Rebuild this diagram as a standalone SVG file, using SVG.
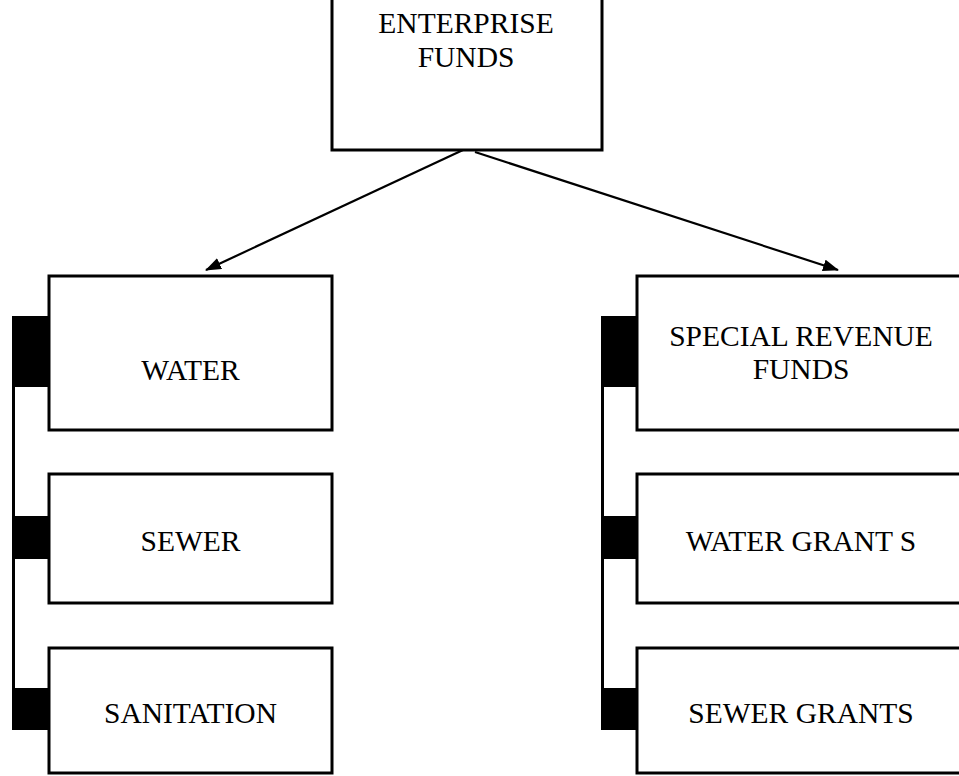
<svg xmlns="http://www.w3.org/2000/svg" width="959" height="776" viewBox="0 0 959 776">
<style>
.box{fill:#fff;stroke:#000;stroke-width:3}
.tab{fill:#000}
.t{font-family:"Liberation Serif","Times New Roman",serif;font-size:29.5px;fill:#000;text-anchor:middle}
.edge{stroke:#000;stroke-width:2.2;fill:none}
.spine{stroke:#000;stroke-width:3;fill:none}
</style>
<defs>
<marker id="ah" viewBox="0 0 16 12" refX="15" refY="6" markerWidth="16" markerHeight="12" markerUnits="userSpaceOnUse" orient="auto">
<path d="M0,0 L16,6 L0,12 Z" fill="#000"/>
</marker>
</defs>
<rect width="959" height="776" fill="#fff"/>
<g id="connectors">
<line class="edge" x1="463" y1="150" x2="206" y2="270" marker-end="url(#ah)"/>
<line class="edge" x1="475" y1="152" x2="838" y2="270" marker-end="url(#ah)"/>
<line class="spine" x1="13.5" y1="316" x2="13.5" y2="730"/>
<line class="spine" x1="602.5" y1="316" x2="602.5" y2="730"/>
</g>
<g id="enterprise">
<rect class="box" x="332" y="-10" width="270" height="160"/>
<text class="t" x="466" y="33">ENTERPRISE</text>
<text class="t" x="466" y="67">FUNDS</text>
</g>
<g id="water">
<rect class="tab" x="12" y="316" width="37" height="71"/>
<rect class="box" x="49" y="276" width="283" height="154"/>
<text class="t" x="190.5" y="380">WATER</text>
</g>
<g id="sewer">
<rect class="tab" x="12" y="516" width="37" height="43"/>
<rect class="box" x="49" y="474" width="283" height="129"/>
<text class="t" x="190.5" y="551">SEWER</text>
</g>
<g id="sanitation">
<rect class="tab" x="12" y="688" width="37" height="42"/>
<rect class="box" x="49" y="648" width="283" height="125"/>
<text class="t" x="190.5" y="723">SANITATION</text>
</g>
<g id="special-revenue">
<rect class="tab" x="601" y="316" width="36" height="71"/>
<rect class="box" x="637" y="276" width="330" height="154"/>
<text class="t" x="801" y="346">SPECIAL REVENUE</text>
<text class="t" x="801" y="379">FUNDS</text>
</g>
<g id="water-grants">
<rect class="tab" x="601" y="516" width="36" height="43"/>
<rect class="box" x="637" y="474" width="330" height="129"/>
<text class="t" x="801" y="551">WATER GRANT S</text>
</g>
<g id="sewer-grants">
<rect class="tab" x="601" y="688" width="36" height="42"/>
<rect class="box" x="637" y="648" width="330" height="125"/>
<text class="t" x="801" y="723">SEWER GRANTS</text>
</g>
</svg>
